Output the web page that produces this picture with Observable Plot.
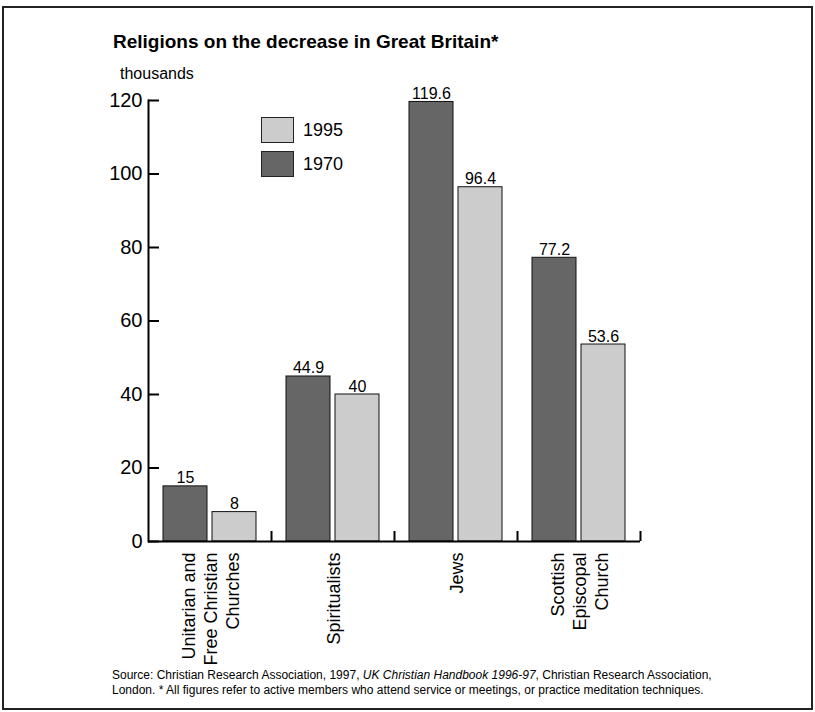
<!DOCTYPE html>
<html>
<head>
<meta charset="utf-8">
<script src="https://cdn.jsdelivr.net/npm/d3@7"></script>
<script src="https://cdn.jsdelivr.net/npm/@observablehq/plot@0.6"></script>
<style>
  body { margin: 0; background: #fff; font-family: "Liberation Sans", Arial, Helvetica, sans-serif; color: #000; }
  #wrap { position: relative; width: 815px; height: 712px; overflow: hidden; }
  #box { position: absolute; left: 2px; top: 6px; width: 807px; height: 700px; border: 2px solid #222; }
  #chart { position: absolute; left: 0; top: 0; }
  #title { position: absolute; left: 113px; top: 32px; font-size: 19px; font-weight: bold; line-height: 1; white-space: nowrap; }
  #unit { position: absolute; left: 120px; top: 66px; font-size: 16px; line-height: 1; white-space: nowrap; }
  .sw { position: absolute; left: 261px; width: 31px; height: 24px; border: 1px solid #222; }
  .lt { position: absolute; left: 303px; font-size: 18px; line-height: 26px; white-space: nowrap; }
  #source { position: absolute; left: 112px; top: 668px; font-size: 12px; line-height: 15px; white-space: nowrap; }
</style>
</head>
<body>
<div id="wrap">
  <div id="box"></div>
  <div id="chart"></div>
  <div id="title">Religions on the decrease in Great Britain*</div>
  <div id="unit">thousands</div>
  <div id="legend"></div>
  <div id="source">Source: Christian Research Association, 1997, <i>UK Christian Handbook 1996-97</i>, Christian Research Association,<br>London. * All figures refer to active members who attend service or meetings, or practice meditation techniques.</div>
</div>
<script>
// ---- data ----
const categories = ["Unitarian and\nFree Christian\nChurches", "Spiritualists", "Jews", "Scottish\nEpiscopal\nChurch"];
const years = ["1970", "1995"];
const values1970 = [15, 44.9, 119.6, 77.2];
const values1995 = [8, 40, 96.4, 53.6];
const yTicks = [0, 20, 40, 60, 80, 100, 120];
const legendOrder = ["1995", "1970"];

// ---- layout ----
const W = 815, H = 700;
const mL = 148, mR = 175, mT = 100, mB = 159;
const step = (W - mL - mR) / categories.length;
const barW = 44, gap = 5;
const outer = (step - 2 * barW - gap) / 2;
const colors = {"1970": "#666666", "1995": "#cccccc"};

const rows1970 = categories.map((c, i) => ({category: c, year: years[0], value: values1970[i]}));
const rows1995 = categories.map((c, i) => ({category: c, year: years[1], value: values1995[i]}));

const plot = Plot.plot({
  width: W, height: H,
  marginLeft: mL, marginRight: mR, marginTop: mT, marginBottom: mB,
  style: {background: "transparent", fontFamily: "'Liberation Sans', Arial, Helvetica, sans-serif", color: "#000", overflow: "visible"},
  x: {domain: categories, padding: 0, label: null},
  y: {domain: [0, 120], label: null},
  marks: [
    Plot.barY(rows1970, {x: "category", y: "value", fill: colors["1970"], stroke: "#111", strokeWidth: 1,
      insetLeft: outer, insetRight: step - outer - barW}),
    Plot.barY(rows1995, {x: "category", y: "value", fill: colors["1995"], stroke: "#111", strokeWidth: 1,
      insetLeft: outer + barW + gap, insetRight: outer}),
    Plot.text(rows1970, {x: "category", y: "value", text: d => String(d.value), dx: -(barW + gap) / 2, dy: -3,
      lineAnchor: "bottom", fontSize: 16, fill: "#000"}),
    Plot.text(rows1995, {x: "category", y: "value", text: d => String(d.value), dx: (barW + gap) / 2, dy: -3,
      lineAnchor: "bottom", fontSize: 16, fill: "#000"}),
    Plot.axisY({ticks: yTicks, tickSize: -11, tickPadding: 17, fontSize: 20, strokeWidth: 2, label: null}),
    Plot.frame({anchor: "left", strokeWidth: 2}),
    Plot.ruleY([0], {strokeWidth: 2}),
    Plot.axisX({tickSize: -10, dx: step / 2, tickFormat: () => "", strokeWidth: 2, label: null}),
    Plot.text(categories, {x: d => d, text: d => d, frameAnchor: "bottom", rotate: -90, textAnchor: "end",
      lineAnchor: "middle", dy: 11, fontSize: 18, lineHeight: 1.2, fill: "#000"})
  ]
});
document.getElementById("chart").appendChild(plot);

// legend
const legend = document.getElementById("legend");
legendOrder.forEach((y, i) => {
  const top = 117 + i * 34;
  const sw = document.createElement("div");
  sw.className = "sw"; sw.style.top = top + "px"; sw.style.background = colors[y];
  const lt = document.createElement("div");
  lt.className = "lt"; lt.style.top = top + "px"; lt.textContent = y;
  legend.appendChild(sw); legend.appendChild(lt);
});
</script>
</body>
</html>
